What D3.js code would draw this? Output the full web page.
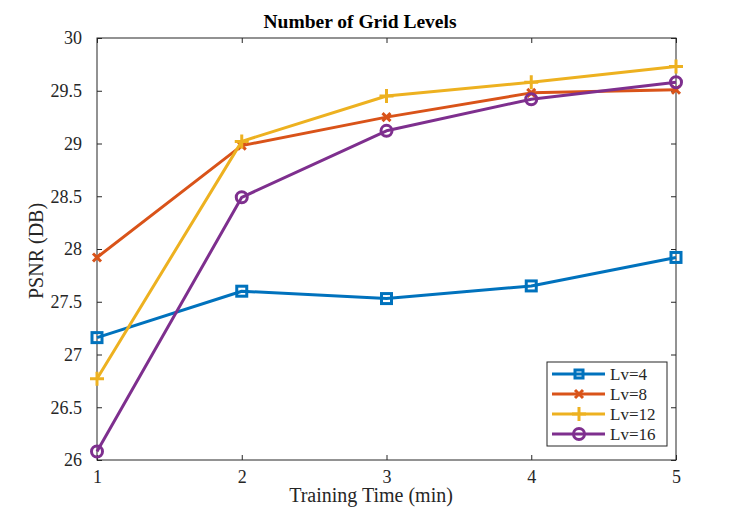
<!DOCTYPE html>
<html>
<head>
<meta charset="utf-8">
<script src="https://cdn.jsdelivr.net/npm/d3@7"></script>
<style>
  body { margin: 0; background: #fff; }
  text { font-family: "Liberation Serif", "Times New Roman", serif; fill: #262626; }
</style>
</head>
<body>
<svg id="chart"></svg>
<script>
////////////////// data ////////////////////
const trainTime = [1, 2, 3, 4, 5];
const lv4  = [27.16, 27.60, 27.53, 27.65, 27.92];
const lv8  = [27.92, 28.98, 29.25, 29.48, 29.51];
const lv12 = [26.77, 29.02, 29.45, 29.58, 29.73];
const lv16 = [26.08, 28.49, 29.12, 29.42, 29.58];
const seriesNames = ["Lv=4", "Lv=8", "Lv=12", "Lv=16"];
const yTicks = [26, 26.5, 27, 27.5, 28, 28.5, 29, 29.5, 30];

const series = [
    { name: seriesNames[0], values: lv4,  color: "#0072BD", marker: "square" },
    { name: seriesNames[1], values: lv8,  color: "#D95319", marker: "x" },
    { name: seriesNames[2], values: lv12, color: "#EDB120", marker: "plus" },
    { name: seriesNames[3], values: lv16, color: "#7E2F8E", marker: "circle" }
];

////////////////// layout ////////////////////
const width = 747, height = 516;
const margin = { left: 97, right: 71, top: 38, bottom: 56 };
const plotW = width - margin.left - margin.right;
const plotH = height - margin.top - margin.bottom;

const svg = d3.select("#chart")
    .attr("width", width)
    .attr("height", height);

const x = d3.scaleLinear().domain([1, 5]).range([margin.left, margin.left + plotW]);
const y = d3.scaleLinear().domain([26, 30]).range([margin.top + plotH, margin.top]);

// axes, MATLAB style box with inward ticks
const tickLen = 5;
const axisColor = "#262626";
const axes = svg.append("g");

function styleAxis(g) {
    g.select(".domain").remove();
    g.selectAll(".tick line").attr("stroke", axisColor);
    g.selectAll(".tick text")
        .style("font-family", "'Liberation Serif', serif")
        .style("font-size", "18px")
        .attr("fill", axisColor);
}

axes.append("g")
    .attr("transform", `translate(0,${y(26)})`)
    .call(d3.axisBottom(x).tickValues(trainTime).tickFormat(d3.format("d"))
        .tickSizeInner(-tickLen).tickSizeOuter(0).tickPadding(10))
    .call(styleAxis);
axes.append("g")
    .attr("transform", `translate(0,${y(30)})`)
    .call(d3.axisTop(x).tickValues(trainTime).tickFormat("")
        .tickSizeInner(-tickLen).tickSizeOuter(0))
    .call(styleAxis);
axes.append("g")
    .attr("transform", `translate(${x(1)},0)`)
    .call(d3.axisLeft(y).tickValues(yTicks).tickFormat(d3.format("~g"))
        .tickSizeInner(-tickLen).tickSizeOuter(0).tickPadding(15))
    .call(styleAxis);
axes.append("g")
    .attr("transform", `translate(${x(5)},0)`)
    .call(d3.axisRight(y).tickValues(yTicks).tickFormat("")
        .tickSizeInner(-tickLen).tickSizeOuter(0))
    .call(styleAxis);

axes.append("rect")
    .attr("x", x(1)).attr("y", y(30))
    .attr("width", x(5) - x(1)).attr("height", y(26) - y(30))
    .attr("fill", "none")
    .attr("stroke", axisColor)
    .attr("stroke-width", 1);

// markers
function drawMarker(g, type, color, cx, cy, size) {
    const k = size || 1;
    if (type === "square") {
        g.append("rect")
            .attr("x", cx - 5 * k).attr("y", cy - 5 * k)
            .attr("width", 10 * k).attr("height", 10 * k)
            .attr("fill", "none").attr("stroke", color).attr("stroke-width", 3);
    } else if (type === "x") {
        g.append("path")
            .attr("d", `M${cx - 4},${cy - 4}L${cx + 4},${cy + 4}M${cx - 4},${cy + 4}L${cx + 4},${cy - 4}`)
            .attr("stroke", color).attr("stroke-width", 3).attr("fill", "none");
    } else if (type === "plus") {
        g.append("path")
            .attr("d", `M${cx - 7},${cy}L${cx + 7},${cy}M${cx},${cy - 7}L${cx},${cy + 7}`)
            .attr("stroke", color).attr("stroke-width", 3).attr("fill", "none");
    } else if (type === "circle") {
        g.append("circle")
            .attr("cx", cx).attr("cy", cy).attr("r", 5.5)
            .attr("fill", "none").attr("stroke", color).attr("stroke-width", 3);
    }
}

// lines
const line = d3.line()
    .x((d, i) => x(trainTime[i]))
    .y(d => y(d));

const lineGroup = svg.append("g");
series.forEach(s => {
    lineGroup.append("path")
        .attr("d", line(s.values))
        .attr("fill", "none")
        .attr("stroke", s.color)
        .attr("stroke-width", 3)
        .attr("stroke-linejoin", "round");
    const mg = lineGroup.append("g");
    s.values.forEach((v, i) => drawMarker(mg, s.marker, s.color, x(trainTime[i]), y(v)));
});

// title and labels (MATLAB put them slightly left of the axes centre)
svg.append("text")
    .attr("x", 360)
    .attr("y", 28)
    .attr("text-anchor", "middle")
    .style("font-size", "19.5px")
    .style("font-weight", "bold")
    .style("fill", "#000")
    .text("Number of Grid Levels");

svg.append("text")
    .attr("x", 371)
    .attr("y", 502)
    .attr("text-anchor", "middle")
    .style("font-size", "20px")
    .text("Training Time (min)");

svg.append("text")
    .attr("transform", `translate(43,251) rotate(-90)`)
    .attr("text-anchor", "middle")
    .style("font-size", "20px")
    .text("PSNR (DB)");

// legend
const legend = svg.append("g").attr("transform", "translate(547,362)");
legend.append("rect")
    .attr("width", 120).attr("height", 84)
    .attr("fill", "#fff")
    .attr("stroke", axisColor)
    .attr("stroke-width", 1);
series.forEach((s, i) => {
    const ly = 12 + i * 20;
    legend.append("line")
        .attr("x1", 5).attr("x2", 58)
        .attr("y1", ly).attr("y2", ly)
        .attr("stroke", s.color).attr("stroke-width", 3);
    drawMarker(legend, s.marker, s.color, 32, ly, 0.8);
    legend.append("text")
        .attr("x", 63).attr("y", ly + 6)
        .style("font-size", "17px")
        .text(s.name);
});
</script>
</body>
</html>
